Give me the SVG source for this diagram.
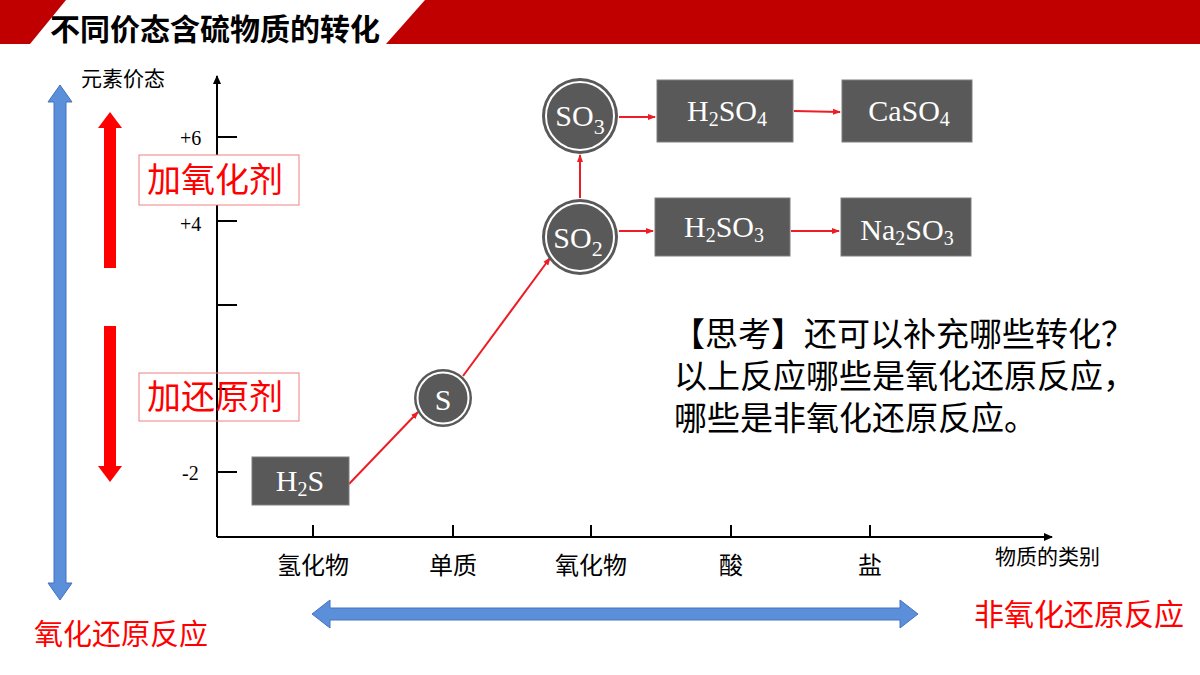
<svg xmlns="http://www.w3.org/2000/svg" width="1200" height="675" viewBox="0 0 1200 675">
<style>
.cn{font-family:"Noto Sans CJK SC","Noto Sans",sans-serif}
.f{font-family:"Liberation Serif",serif;fill:#fff;font-size:30px}
.box{fill:#595959;stroke:#7f7f7f;stroke-width:1}
.con{stroke:#ee1c24;stroke-width:2;fill:none;marker-end:url(#ar)}
.ax{stroke:#000;stroke-width:2;fill:none}
.tk{font-family:"Liberation Serif",serif;font-size:20px}
.lb{font-size:24px}
</style>
<defs>
<marker id="ar" markerWidth="8" markerHeight="8" refX="7" refY="4" orient="auto" markerUnits="userSpaceOnUse"><path d="M0,1 L8,4 L0,7 z" fill="#ee1c24"/></marker>
<marker id="ak" markerWidth="10" markerHeight="10" refX="8" refY="5" orient="auto" markerUnits="userSpaceOnUse"><path d="M0,1 L9,5 L0,9 z" fill="#000"/></marker>
</defs>
<rect width="1200" height="675" fill="#fff"/>
<g id="banner">
<polygon points="0,0 66,0 30,44 0,44" fill="#c00000"/>
<polygon points="425,0 1200,0 1200,44 386,44" fill="#c00000"/>
<text x="50" y="40" class="cn" font-size="30" font-weight="bold">不同价态含硫物质的转化</text>
</g>
<g id="axes">
<line x1="217" y1="537" x2="217" y2="76" class="ax" marker-end="url(#ak)"/>
<line x1="217" y1="537" x2="1052" y2="537" class="ax" marker-end="url(#ak)"/>
<path d="M217 137h20M217 221h20M217 305h20M217 389h20M217 472h20M313 537v-12M453 537v-12M591 537v-12M731 537v-12M870 537v-12" stroke="#000" stroke-width="2"/>
<text x="180" y="145" class="tk">+6</text>
<text x="180" y="231" class="tk">+4</text>
<text x="182" y="480" class="tk">-2</text>
<text x="81" y="86" class="cn" font-size="21">元素价态</text>
<text x="995" y="564" class="cn" font-size="21">物质的类别</text>
<g class="cn lb" text-anchor="middle">
<text x="313" y="574">氢化物</text><text x="453" y="574">单质</text><text x="591" y="574">氧化物</text><text x="731" y="574">酸</text><text x="870" y="574">盐</text>
</g>
</g>
<g id="side">
<polygon points="60,85 72,102 66,102 66,583 72,583 60,600 48,583 54,583 54,102 48,102" fill="#5b8fd9" stroke="#4472c4" stroke-width="1"/>
<polygon points="312,614 330,600 330,608 900,608 900,600 918,614 900,628 900,620 330,620 330,628" fill="#5b8fd9" stroke="#4472c4" stroke-width="1"/>
<polygon points="110,112 122,128 116,128 116,268 104,268 104,128 98,128" fill="#f00"/>
<polygon points="110,482 122,466 116,466 116,326 104,326 104,466 98,466" fill="#f00"/>
<rect x="139" y="155" width="160" height="50" fill="#fff" stroke="#f08080"/>
<text x="147" y="192" class="cn" font-size="34" fill="#f00">加氧化剂</text>
<rect x="139" y="373" width="160" height="48" fill="none" stroke="#f08080"/>
<text x="147" y="409" class="cn" font-size="34" fill="#f00">加还原剂</text>
<text x="34" y="645" class="cn" font-size="29" fill="#f00">氧化还原反应</text>
<text x="974" y="625" class="cn" font-size="30" fill="#f00">非氧化还原反应</text>
</g>
<g id="connectors">
<line x1="349" y1="484" x2="418" y2="412" class="con"/>
<line x1="463" y1="376" x2="550" y2="258" class="con"/>
<line x1="580" y1="198" x2="580" y2="155" class="con"/>
<line x1="619" y1="117" x2="655" y2="117" class="con"/>
<line x1="794" y1="111" x2="840" y2="112" class="con"/>
<line x1="619" y1="231" x2="653" y2="231" class="con"/>
<line x1="791" y1="231" x2="839" y2="231" class="con"/>
</g>
<g id="H2S"><rect x="252" y="457" width="97" height="48" class="box"/><text x="300" y="491" class="f" text-anchor="middle">H<tspan font-size="20" dy="5">2</tspan><tspan dy="-5">S</tspan></text></g>
<g id="S"><circle cx="443" cy="398" r="29" fill="#595959"/><circle cx="443" cy="398" r="25.5" fill="none" stroke="#fff" stroke-width="2"/><text x="443" y="410" class="f" font-size="34" text-anchor="middle">S</text></g>
<g id="SO2"><circle cx="580" cy="237" r="38" fill="#595959"/><circle cx="580" cy="237" r="34" fill="none" stroke="#fff" stroke-width="2"/><text x="578" y="248" class="f" font-size="33" text-anchor="middle">SO<tspan font-size="22" dy="8">2</tspan></text></g>
<g id="SO3"><circle cx="580" cy="116" r="38" fill="#595959"/><circle cx="580" cy="116" r="34" fill="none" stroke="#fff" stroke-width="2"/><text x="580" y="126" class="f" font-size="33" text-anchor="middle">SO<tspan font-size="22" dy="8">3</tspan></text></g>
<g id="H2SO4"><rect x="657" y="80" width="136" height="62" class="box"/><text x="727" y="121" class="f" text-anchor="middle">H<tspan font-size="20" dy="5">2</tspan><tspan dy="-5">SO</tspan><tspan font-size="20" dy="5">4</tspan></text></g>
<g id="CaSO4"><rect x="842" y="80" width="130" height="62" class="box"/><text x="909" y="121" class="f" text-anchor="middle">CaSO<tspan font-size="20" dy="5">4</tspan></text></g>
<g id="H2SO3"><rect x="655" y="198" width="135" height="58" class="box"/><text x="724" y="237" class="f" text-anchor="middle">H<tspan font-size="20" dy="5">2</tspan><tspan dy="-5">SO</tspan><tspan font-size="20" dy="5">3</tspan></text></g>
<g id="Na2SO3"><rect x="841" y="198" width="130" height="58" class="box"/><text x="907" y="240" class="f" text-anchor="middle">Na<tspan font-size="20" dy="5">2</tspan><tspan dy="-5">SO</tspan><tspan font-size="20" dy="5">3</tspan></text></g>
<g id="question" class="cn" font-size="33">
<text x="672" y="346">【思考】还可以补充哪些转化？</text>
<text x="674" y="388">以上反应哪些是氧化还原反应，</text>
<text x="674" y="430">哪些是非氧化还原反应。</text>
</g>
</svg>
